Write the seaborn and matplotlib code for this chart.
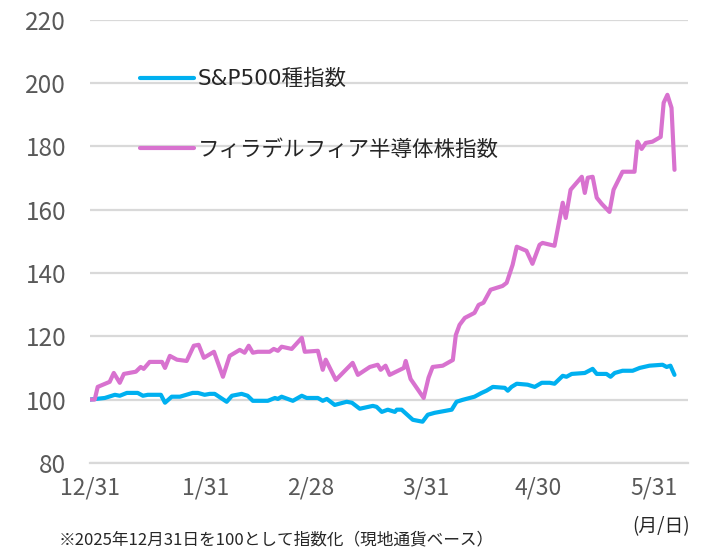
import numpy as np
import pandas as pd
import matplotlib
matplotlib.use("Agg")
import matplotlib.pyplot as plt
import seaborn as sns

# days since 2025-12-31, index values (2025/12/31 = 100)
sox_days = [0, 1.3, 2.1, 5.3, 6.4, 8.0, 9.1, 12.3, 13.6, 14.4, 16.0, 19.3, 20.1, 21.4,
            23.3, 25.9, 27.8, 29.1, 30.5, 33.2, 35.6, 37.4, 40.1, 41.4, 42.5, 43.6,
            44.9, 48.1, 49.2, 50.3, 51.3, 54.0, 56.7, 57.5, 61.0, 62.3, 63.1, 65.8,
            70.3, 71.7, 74.9, 77.0, 77.8, 79.1, 80.2, 84.0, 84.5, 85.8, 89.3, 90.6,
            91.7, 94.4, 97.1, 97.9, 98.9, 100.3, 102.9, 104.0, 105.3, 107.2, 110.4,
            111.5, 113.1, 114.2, 116.8, 118.4, 120.3, 121.1, 124.3, 126.5, 127.3,
            128.6, 131.6, 132.4, 133.2, 134.5, 135.6, 136.9, 139.0, 140.1, 142.5,
            145.7, 146.5, 147.6, 148.7, 150.5, 152.7, 153.5, 154.5, 155.6, 156.4]
sox_vals = [100, 100, 104, 105.6, 108.4, 105.3, 108.1, 108.8, 110.3, 109.7, 111.9, 111.9,
            110, 113.8, 112.6, 112.2, 117, 117.3, 113.2, 115.1, 107.2, 113.8, 115.7,
            114.8, 117, 114.8, 115.1, 115.1, 116, 115.4, 116.7, 116, 119.5, 115.1,
            115.4, 109.4, 112.6, 106.2, 111.6, 107.8, 110.3, 111, 109.4, 110.7, 107.8,
            110, 112.2, 106.5, 100.5, 106.9, 110.3, 110.7, 112.5, 120.4, 123.6, 125.8,
            127.4, 129.9, 130.6, 134.7, 135.9, 136.9, 142.6, 148.3, 147, 142.9, 148.9,
            149.5, 148.6, 162.2, 157.4, 166.3, 170.4, 165.3, 170.1, 170.4, 163.8,
            161.9, 159.3, 166.3, 172, 172, 181.5, 179.2, 181.1, 181.5, 183, 193.8,
            196.3, 192.2, 172.6]

spx_days = [0, 4.0, 6.7, 8.0, 9.9, 12.8, 14.2, 15.5, 19.0, 20.1, 21.9, 24.1, 27.5, 28.9,
            30.7, 32.1, 33.4, 36.6, 38.0, 40.6, 42.2, 43.6, 47.6, 49.5, 50.3, 51.3,
            54.3, 56.7, 58.0, 61.0, 62.3, 63.4, 65.5, 68.7, 70.1, 72.2, 75.7, 76.7,
            78.1, 79.7, 81.6, 82.1, 83.4, 86.4, 89.0, 90.4, 92.2, 96.8, 98.1, 99.7,
            102.9, 104.8, 106.1, 107.8, 111.0, 111.8, 112.8, 114.2, 117.1, 119.0,
            120.9, 123.0, 124.3, 126.5, 127.5, 128.9, 132.4, 134.5, 135.6, 138.2,
            139.3, 140.4, 142.5, 145.2, 147.1, 149.7, 153.2, 154.3, 155.3, 156.4]
spx_vals = [100, 100.5, 101.5, 101.2, 102.1, 102.1, 101.2, 101.5, 101.5, 99.0, 100.9,
            100.9, 102.1, 102.1, 101.5, 101.8, 101.8, 99.3, 101.2, 101.8, 101.2, 99.6,
            99.6, 100.5, 100.2, 100.9, 99.6, 101.2, 100.5, 100.5, 99.6, 100.2, 98.3,
            99.3, 99.0, 97.1, 98.0, 97.7, 96.1, 96.8, 96.1, 96.8, 96.8, 93.6, 93.0,
            95.2, 95.8, 96.8, 99.3, 99.9, 100.9, 102.1, 102.8, 104.0, 103.7, 102.8,
            104.0, 105.0, 104.7, 104.0, 105.3, 105.3, 105.0, 107.5, 107.2, 108.1,
            108.4, 109.7, 108.1, 108.1, 107.2, 108.4, 109.1, 109.1, 110.0, 110.7,
            111.0, 110.3, 110.7, 107.8]

tick_days = [0, 31, 59, 90, 120, 151]
tick_labels = ["12/31", "1/31", "2/28", "3/31", "4/30", "5/31"]
series_names = ["S&P500種指数", "フィラデルフィア半導体株指数"]

df = pd.concat([
    pd.DataFrame({"day": spx_days, "value": spx_vals, "series": series_names[0]}),
    pd.DataFrame({"day": sox_days, "value": sox_vals, "series": series_names[1]}),
])

sns.set_style("white")
plt.rcParams['font.family'] = ['Noto Sans CJK JP', 'DejaVu Sans']

fig = plt.figure(figsize=(7.02, 5.51), dpi=100)
ax = fig.add_axes([0.128, 0.160, 0.852, 0.804])

sns.lineplot(data=df, x="day", y="value", hue="series", estimator=None, sort=False,
             palette={series_names[0]: "#00B0F0", series_names[1]: "#D872CF"},
             linewidth=3, ax=ax)

ax.set_xlim(0, 160)
ax.set_ylim(80, 220)
ax.set_yticks(range(80, 221, 20))
ax.set_xticks(tick_days)
ax.set_xticklabels(tick_labels)
ax.set_xlabel("")
ax.set_ylabel("")
ax.grid(axis="y", color="#d9d9d9", linewidth=1.6)
ax.set_axisbelow(True)
for s in ["top", "right", "left"]:
    ax.spines[s].set_visible(False)
ax.spines["bottom"].set_color("#d9d9d9")
ax.spines["bottom"].set_linewidth(1.6)
ax.tick_params(axis="x", colors="#595959", labelsize=16.5, length=6, width=1.2,
               color="#d9d9d9", pad=4)
ax.tick_params(axis="y", colors="#595959", labelsize=17.5, length=0, pad=17)

leg = ax.legend(loc="upper left", bbox_to_anchor=(0.052, 0.932), frameon=False,
                handlelength=2.5, labelspacing=2.3, handletextpad=0.15,
                prop={"family": ["DejaVu Sans", "Noto Sans CJK JP"], "size": 15.5})
for line in leg.get_lines():
    line.set_linewidth(3)

fig.text(0.083, 0.012, "※2025年12月31日を100として指数化（現地通貨ベース）",
         fontsize=12, color="#262626")
fig.text(0.983, 0.035, "(月/日)", fontsize=13.5, color="#262626", ha="right")

fig.savefig("out.png", dpi=100)
